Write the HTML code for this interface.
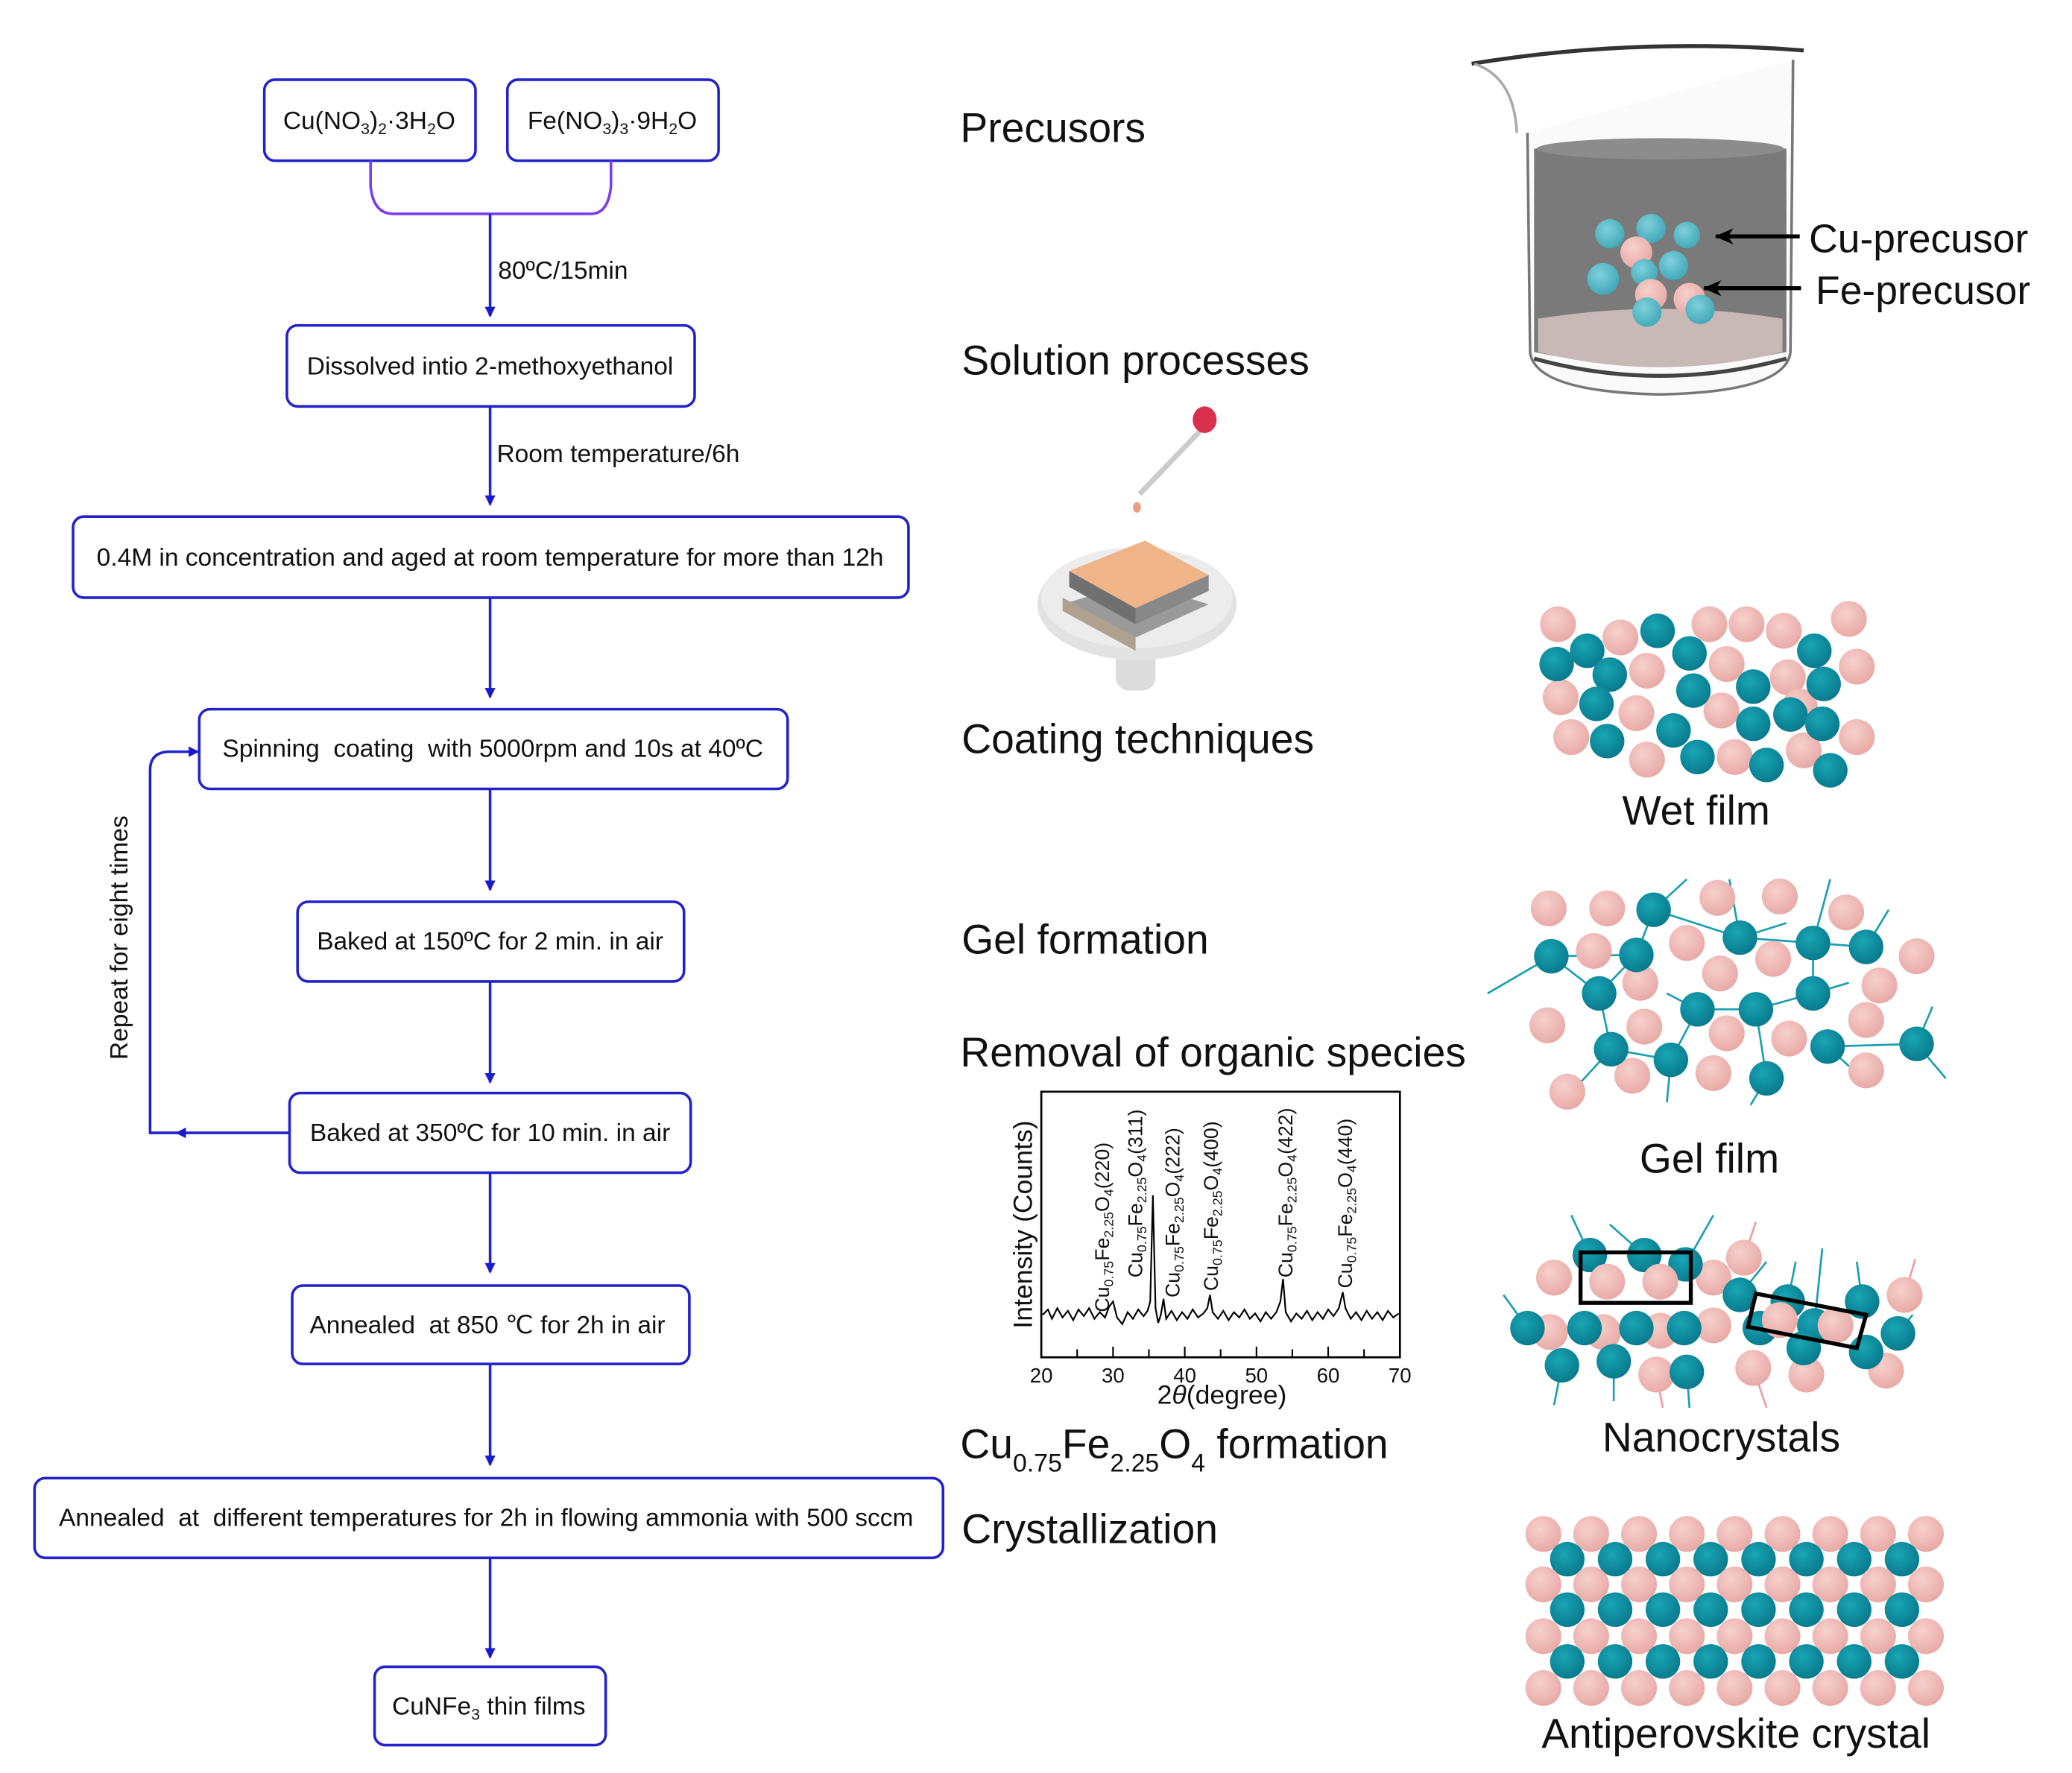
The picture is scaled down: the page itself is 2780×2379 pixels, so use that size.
<!DOCTYPE html>
<html><head><meta charset="utf-8"><style>
html,body{margin:0;padding:0;background:#fff;}
svg{display:block;}
text{font-family:"Liberation Sans",Arial,sans-serif;fill:#111;white-space:pre;}
</style></head><body>
<svg width="2780" height="2379" viewBox="0 0 1560 1335" preserveAspectRatio="none" xmlns="http://www.w3.org/2000/svg">
<defs>
<radialGradient id="pk" cx="0.4" cy="0.35" r="0.7"><stop offset="0" stop-color="#f7d0cc"/><stop offset="1" stop-color="#e7a8a4"/></radialGradient>
<radialGradient id="tl" cx="0.4" cy="0.35" r="0.7"><stop offset="0" stop-color="#1aa5b5"/><stop offset="1" stop-color="#06788a"/></radialGradient>
<radialGradient id="tl2" cx="0.4" cy="0.35" r="0.7"><stop offset="0" stop-color="#7fd0dc"/><stop offset="1" stop-color="#3fa6b6"/></radialGradient>
<marker id="ah" markerWidth="8" markerHeight="8" refX="7" refY="4" orient="auto" markerUnits="userSpaceOnUse"><path d="M0,0 L8,4 L0,8 Z" fill="#1a1acc"/></marker>
<marker id="bh" markerWidth="14" markerHeight="12" refX="13" refY="6" orient="auto" markerUnits="userSpaceOnUse"><path d="M0,0 L14,6 L0,12 L4,6 Z" fill="#000"/></marker>
<g id="prow"><circle cx="1162" cy="0" r="13.5" fill="url(#pk)"/><circle cx="1198" cy="0" r="13.5" fill="url(#pk)"/><circle cx="1234" cy="0" r="13.5" fill="url(#pk)"/><circle cx="1270" cy="0" r="13.5" fill="url(#pk)"/><circle cx="1306" cy="0" r="13.5" fill="url(#pk)"/><circle cx="1342" cy="0" r="13.5" fill="url(#pk)"/><circle cx="1378" cy="0" r="13.5" fill="url(#pk)"/><circle cx="1414" cy="0" r="13.5" fill="url(#pk)"/><circle cx="1450" cy="0" r="13.5" fill="url(#pk)"/></g>
<g id="trow"><circle cx="1180" cy="0" r="13" fill="url(#tl)"/><circle cx="1216" cy="0" r="13" fill="url(#tl)"/><circle cx="1252" cy="0" r="13" fill="url(#tl)"/><circle cx="1288" cy="0" r="13" fill="url(#tl)"/><circle cx="1324" cy="0" r="13" fill="url(#tl)"/><circle cx="1360" cy="0" r="13" fill="url(#tl)"/><circle cx="1396" cy="0" r="13" fill="url(#tl)"/><circle cx="1432" cy="0" r="13" fill="url(#tl)"/></g>
</defs>

<!-- Flowchart -->
<g fill="none" stroke="#2222cc" stroke-width="2">
<rect x="199" y="60" width="159" height="61" rx="8"/>
<rect x="382" y="60" width="159" height="61" rx="8"/>
<rect x="216" y="245" width="307" height="61" rx="8"/>
<rect x="55" y="389" width="629" height="61" rx="8"/>
<rect x="150" y="534" width="443" height="60" rx="8"/>
<rect x="224" y="679" width="291" height="60" rx="8"/>
<rect x="218" y="823" width="302" height="60" rx="8"/>
<rect x="220" y="968" width="299" height="59" rx="8"/>
<rect x="26" y="1113" width="684" height="60" rx="8"/>
<rect x="282" y="1255" width="174" height="59" rx="8"/>
</g>
<path d="M279,121 L279,140 Q281,161 296,161 L445,161 Q458,161 460,140 L460,121" fill="none" stroke="#7b3cf0" stroke-width="2"/>
<g stroke="#2222cc" stroke-width="2" fill="none" marker-end="url(#ah)">
<line x1="369" y1="161" x2="369" y2="238"/>
<line x1="369" y1="306" x2="369" y2="380"/>
<line x1="369" y1="450" x2="369" y2="525"/>
<line x1="369" y1="594" x2="369" y2="670"/>
<line x1="369" y1="739" x2="369" y2="815"/>
<line x1="369" y1="883" x2="369" y2="958"/>
<line x1="369" y1="1027" x2="369" y2="1103"/>
<line x1="369" y1="1173" x2="369" y2="1248"/>
<path d="M218,853 L133,853"/>
<path d="M133,853 L113,853 L113,580 Q113,566 128,566 L149,566"/>
</g>
<g font-size="18.8" text-anchor="middle">
<text x="278" y="97">Cu(NO<tspan font-size="12" dy="4">3</tspan><tspan dy="-4">)</tspan><tspan font-size="12" dy="4">2</tspan><tspan dy="-4">·3H</tspan><tspan font-size="12" dy="4">2</tspan><tspan dy="-4">O</tspan></text>
<text x="461" y="97">Fe(NO<tspan font-size="12" dy="4">3</tspan><tspan dy="-4">)</tspan><tspan font-size="12" dy="4">3</tspan><tspan dy="-4">·9H</tspan><tspan font-size="12" dy="4">2</tspan><tspan dy="-4">O</tspan></text>
<text x="369" y="282">Dissolved intio 2-methoxyethanol</text>
<text x="369" y="426">0.4M in concentration and aged at room temperature for more than 12h</text>
<text x="371" y="570">Spinning  coating  with 5000rpm and 10s at 40ºC</text>
<text x="369" y="715">Baked at 150ºC for 2 min. in air</text>
<text x="369" y="859">Baked at 350ºC for 10 min. in air</text>
<text x="367" y="1004">Annealed  at 850 ℃ for 2h in air</text>
<text x="366" y="1149">Annealed  at  different temperatures for 2h in flowing ammonia with 500 sccm</text>
<text x="368" y="1291">CuNFe<tspan font-size="12" dy="4">3</tspan><tspan dy="-4"> thin films</tspan></text>
</g>
<text x="375" y="210" font-size="18.8">80ºC/15min</text>
<text x="374" y="348" font-size="18.8">Room temperature/6h</text>
<text transform="translate(96,706) rotate(-90)" font-size="18.8" text-anchor="middle">Repeat for eight times</text>

<!-- Stage labels -->
<g font-size="31">
<text x="723" y="107">Precusors</text>
<text x="724" y="282">Solution processes</text>
<text x="724" y="567">Coating techniques</text>
<text x="724" y="718">Gel formation</text>
<text x="723" y="803">Removal of organic species</text>
<text x="723" y="1098">Cu<tspan font-size="19" dy="10">0.75</tspan><tspan dy="-10">Fe</tspan><tspan font-size="19" dy="10">2.25</tspan><tspan dy="-10">O</tspan><tspan font-size="19" dy="10">4</tspan><tspan dy="-10"> formation</tspan></text>
<text x="724" y="1162">Crystallization</text>
</g>

<!-- Beaker -->
<path d="M1150,100 L1152,265 Q1155,295 1250,297 Q1345,295 1348,265 L1350,45" fill="#fafafa" stroke="#777" stroke-width="2"/>
<path d="M1108,48 Q1230,28 1358,38" fill="none" stroke="#333" stroke-width="3"/>
<path d="M1110,48 Q1140,58 1142,100" fill="none" stroke="#aaa" stroke-width="2"/>
<path d="M1155,112 Q1250,100 1345,112 L1345,265 Q1250,285 1155,265 Z" fill="#7a7a7a"/>
<ellipse cx="1250" cy="112" rx="93" ry="8" fill="#8c8c8c"/>
<path d="M1158,240 Q1250,225 1342,240 L1342,265 Q1250,288 1158,265 Z" fill="#c8b8b6"/>
<path d="M1155,270 Q1250,296 1345,270" fill="none" stroke="#444" stroke-width="3"/>
<g>
<circle cx="1212" cy="176" r="11" fill="url(#tl2)"/><circle cx="1243" cy="172" r="11" fill="url(#tl2)"/><circle cx="1270" cy="177" r="10" fill="url(#tl2)"/>
<circle cx="1232" cy="190" r="12" fill="url(#pk)"/><circle cx="1260" cy="200" r="11" fill="url(#tl2)"/><circle cx="1238" cy="205" r="10" fill="url(#tl2)"/>
<circle cx="1207" cy="210" r="12" fill="url(#tl2)"/><circle cx="1243" cy="222" r="12" fill="url(#pk)"/><circle cx="1272" cy="225" r="12" fill="url(#pk)"/>
<circle cx="1240" cy="235" r="11" fill="url(#tl2)"/><circle cx="1280" cy="233" r="11" fill="url(#tl2)"/>
</g>
<line x1="1355" y1="178" x2="1292" y2="178" stroke="#000" stroke-width="3" marker-end="url(#bh)"/>
<line x1="1356" y1="217" x2="1283" y2="217" stroke="#000" stroke-width="3" marker-end="url(#bh)"/>
<text x="1362" y="190" font-size="30">Cu-precusor</text>
<text x="1367" y="229" font-size="30">Fe-precusor</text>

<!-- Dropper and spin coater -->
<line x1="906" y1="322" x2="858" y2="372" stroke="#ccc" stroke-width="4"/>
<ellipse cx="907" cy="316" rx="9" ry="10" fill="#d9304e"/>
<ellipse cx="856" cy="382" rx="3" ry="4" fill="#e8a07a"/>
<rect x="840" y="470" width="30" height="50" rx="10" fill="#dcdcdc"/>
<ellipse cx="856" cy="455" rx="75" ry="42" fill="#e2e2e2"/>
<ellipse cx="856" cy="450" rx="72" ry="38" fill="#ececec"/>
<polygon points="800,455 855,438 910,455 855,480" fill="#9a9a9a"/>
<polygon points="800,450 855,480 855,490 800,460" fill="#b0a090"/>
<polygon points="805,430 862,407 910,433 855,458" fill="#efb488"/>
<polygon points="805,430 855,458 855,470 805,442" fill="#707070"/>
<polygon points="855,458 910,433 910,445 855,470" fill="#888"/>

<!-- Wet film -->
<g>
<g fill="url(#pk)">
<circle cx="1173" cy="470" r="13.5"/><circle cx="1220" cy="480" r="13.5"/><circle cx="1287" cy="470" r="13.5"/><circle cx="1315" cy="470" r="13.5"/><circle cx="1343" cy="475" r="13.5"/><circle cx="1392" cy="466" r="13.5"/><circle cx="1175" cy="525" r="13.5"/><circle cx="1240" cy="505" r="13.5"/><circle cx="1300" cy="500" r="13.5"/><circle cx="1346" cy="510" r="13.5"/><circle cx="1398" cy="502" r="13.5"/><circle cx="1183" cy="555" r="13.5"/><circle cx="1232" cy="537" r="13.5"/><circle cx="1296" cy="535" r="13.5"/><circle cx="1355" cy="532" r="13.5"/><circle cx="1240" cy="572" r="13.5"/><circle cx="1306" cy="570" r="13.5"/><circle cx="1358" cy="565" r="13.5"/><circle cx="1398" cy="555" r="13.5"/>
</g>
<g fill="url(#tl)">
<circle cx="1172" cy="500" r="13"/><circle cx="1195" cy="490" r="13"/><circle cx="1248" cy="475" r="13"/><circle cx="1212" cy="508" r="13"/><circle cx="1272" cy="492" r="13"/><circle cx="1366" cy="490" r="13"/><circle cx="1202" cy="530" r="13"/><circle cx="1275" cy="520" r="13"/><circle cx="1320" cy="517" r="13"/><circle cx="1373" cy="515" r="13"/><circle cx="1210" cy="558" r="13"/><circle cx="1260" cy="550" r="13"/><circle cx="1320" cy="545" r="13"/><circle cx="1348" cy="538" r="13"/><circle cx="1372" cy="545" r="13"/><circle cx="1278" cy="570" r="13"/><circle cx="1330" cy="576" r="13"/><circle cx="1378" cy="580" r="13"/>
</g>
</g>
<text x="1277" y="621" font-size="31" text-anchor="middle">Wet film</text>

<!-- Gel film -->
<g stroke="#1a9fb0" stroke-width="1.5" fill="none">
<path d="M1245,685 L1310,706 L1365,710 L1405,713 M1168,720 L1232,719 L1204,748 L1168,720 M1232,719 L1245,685 M1278,760 L1322,760 L1365,748 L1365,710 M1213,790 L1258,798 L1278,760 M1376,788 L1443,786 M1330,812 L1322,760 M1204,748 L1213,790 M1168,720 L1120,748 M1245,685 L1270,662 M1310,706 L1302,662 M1365,710 L1378,662 M1405,713 L1422,685 M1443,786 L1465,812 M1443,786 L1455,758 M1330,812 L1318,832 M1213,790 L1190,815 M1258,798 L1255,830 M1376,788 L1400,810 M1278,760 L1255,748 M1310,706 L1345,695 M1365,748 L1392,740"/>
</g>
<g fill="url(#pk)">
<circle cx="1166" cy="684" r="13.5"/><circle cx="1210" cy="684" r="13.5"/><circle cx="1293" cy="676" r="13.5"/><circle cx="1340" cy="675" r="13.5"/><circle cx="1390" cy="687" r="13.5"/><circle cx="1200" cy="716" r="13.5"/><circle cx="1270" cy="710" r="13.5"/><circle cx="1335" cy="722" r="13.5"/><circle cx="1443" cy="720" r="13.5"/><circle cx="1235" cy="740" r="13.5"/><circle cx="1295" cy="733" r="13.5"/><circle cx="1415" cy="742" r="13.5"/><circle cx="1165" cy="772" r="13.5"/><circle cx="1238" cy="773" r="13.5"/><circle cx="1300" cy="778" r="13.5"/><circle cx="1347" cy="782" r="13.5"/><circle cx="1405" cy="768" r="13.5"/><circle cx="1180" cy="822" r="13.5"/><circle cx="1229" cy="810" r="13.5"/><circle cx="1290" cy="808" r="13.5"/><circle cx="1405" cy="806" r="13.5"/>
</g>
<g fill="url(#tl)">
<circle cx="1245" cy="685" r="13"/><circle cx="1310" cy="706" r="13"/><circle cx="1365" cy="710" r="13"/><circle cx="1405" cy="713" r="13"/><circle cx="1168" cy="720" r="13"/><circle cx="1232" cy="719" r="13"/><circle cx="1204" cy="748" r="13"/><circle cx="1278" cy="760" r="13"/><circle cx="1322" cy="760" r="13"/><circle cx="1365" cy="748" r="13"/><circle cx="1213" cy="790" r="13"/><circle cx="1258" cy="798" r="13"/><circle cx="1376" cy="788" r="13"/><circle cx="1443" cy="786" r="13"/><circle cx="1330" cy="812" r="13"/>
</g>
<text x="1287" y="883" font-size="31" text-anchor="middle">Gel film</text>

<!-- Nanocrystals -->
<g stroke="#1a9fb0" stroke-width="1.5">
<path d="M1197,945 L1183,915 M1238,945 L1212,922 M1269,952 L1290,915 M1150,1000 L1132,975 M1176,1028 L1170,1058 M1215,1025 L1215,1055 M1270,1033 L1272,1060 M1346,980 L1352,950 M1402,980 L1398,950 M1310,975 L1330,950 M1366,998 L1372,940 M1429,1004 L1440,990"/>
</g>
<g stroke="#e8a0a0" stroke-width="1.5"><path d="M1313,947 L1322,920 M1434,975 L1442,948 M1247,1035 L1252,1060 M1320,1030 L1330,1060"/></g>
<g fill="url(#pk)">
<circle cx="1170" cy="962" r="13.5"/><circle cx="1313" cy="947" r="13.5"/><circle cx="1290" cy="962" r="13.5"/><circle cx="1167" cy="1003" r="13.5"/><circle cx="1250" cy="1002" r="13.5"/><circle cx="1290" cy="998" r="13.5"/><circle cx="1434" cy="975" r="13.5"/><circle cx="1247" cy="1035" r="13.5"/><circle cx="1320" cy="1030" r="13.5"/><circle cx="1360" cy="1035" r="13.5"/><circle cx="1420" cy="1032" r="13.5"/><circle cx="1207" cy="1003" r="13.5"/>
</g>
<g fill="url(#tl)">
<circle cx="1197" cy="945" r="13"/><circle cx="1238" cy="945" r="13"/><circle cx="1269" cy="952" r="13"/><circle cx="1150" cy="1000" r="13"/><circle cx="1193" cy="1000" r="13"/><circle cx="1232" cy="1000" r="13"/><circle cx="1268" cy="1000" r="13"/><circle cx="1176" cy="1028" r="13"/><circle cx="1215" cy="1025" r="13"/><circle cx="1270" cy="1033" r="13"/><circle cx="1310" cy="975" r="13"/><circle cx="1346" cy="980" r="13"/><circle cx="1366" cy="998" r="13"/><circle cx="1402" cy="980" r="13"/><circle cx="1405" cy="1018" r="13"/><circle cx="1429" cy="1004" r="13"/><circle cx="1325" cy="1000" r="13"/><circle cx="1358" cy="1015" r="13"/>
</g>
<g fill="url(#pk)"><circle cx="1210" cy="965" r="13.5"/><circle cx="1250" cy="965" r="13.5"/><circle cx="1340" cy="994" r="13.5"/><circle cx="1382" cy="998" r="13.5"/></g>
<rect x="1190" y="943" width="83" height="38" fill="none" stroke="#000" stroke-width="3"/>
<polygon points="1322,974 1405,990 1398,1015 1316,999" fill="none" stroke="#000" stroke-width="3"/>
<text x="1296" y="1093" font-size="31" text-anchor="middle">Nanocrystals</text>

<!-- Antiperovskite -->
<use href="#prow" y="1155"/><use href="#trow" y="1174"/>
<use href="#prow" y="1193"/><use href="#trow" y="1212"/>
<use href="#prow" y="1232"/><use href="#trow" y="1251"/>
<use href="#prow" y="1271"/>
<text x="1307" y="1316" font-size="31" text-anchor="middle">Antiperovskite crystal</text>

<!-- XRD -->
<rect x="784" y="822" width="270" height="200" fill="none" stroke="#000" stroke-width="1.5"/>
<g stroke="#000" stroke-width="1.2">
<line x1="811" y1="1022" x2="811" y2="1016"/><line x1="838" y1="1022" x2="838" y2="1014"/><line x1="865" y1="1022" x2="865" y2="1016"/><line x1="892" y1="1022" x2="892" y2="1014"/><line x1="919" y1="1022" x2="919" y2="1016"/><line x1="946" y1="1022" x2="946" y2="1014"/><line x1="973" y1="1022" x2="973" y2="1016"/><line x1="1000" y1="1022" x2="1000" y2="1014"/><line x1="1027" y1="1022" x2="1027" y2="1016"/>
</g>
<polyline fill="none" stroke="#000" stroke-width="1.2" points="785,990 789,986 792,993 796,985 800,992 804,987 808,994 812,986 816,991 820,985 824,993 828,988 832,992 835,984 838,980 841,992 845,997 849,988 853,993 857,986 861,991 864,987 866,980 868,900 870,985 872,996 874,990 876,978 878,993 882,987 886,994 890,988 894,993 898,986 902,992 906,989 909,985 911,975 913,988 917,993 921,987 925,994 929,988 933,992 937,986 941,993 945,989 949,995 953,988 957,993 961,988 964,980 966,963 968,988 972,995 976,989 980,993 984,987 988,994 992,988 996,993 1000,986 1004,991 1008,985 1011,973 1013,985 1017,993 1021,988 1025,994 1029,987 1033,993 1037,988 1041,994 1045,987 1049,992 1053,989"/>
<g font-size="15.5" text-anchor="middle">
<text x="784" y="1041">20</text><text x="838" y="1041">30</text><text x="892" y="1041">40</text><text x="946" y="1041">50</text><text x="1000" y="1041">60</text><text x="1054" y="1041">70</text>
</g>
<text x="920" y="1057" font-size="20" text-anchor="middle">2<tspan font-style="italic">θ</tspan>(degree)</text>
<text transform="translate(777,922) rotate(-90)" font-size="20" text-anchor="middle">Intensity (Counts)</text>
<g font-size="15">
<text transform="translate(835,988) rotate(-90)">Cu<tspan font-size="10" dy="3">0.75</tspan><tspan dy="-3">Fe</tspan><tspan font-size="10" dy="3">2.25</tspan><tspan dy="-3">O</tspan><tspan font-size="10" dy="3">4</tspan><tspan dy="-3">(220)</tspan></text>
<text transform="translate(860,962) rotate(-90)">Cu<tspan font-size="10" dy="3">0.75</tspan><tspan dy="-3">Fe</tspan><tspan font-size="10" dy="3">2.25</tspan><tspan dy="-3">O</tspan><tspan font-size="10" dy="3">4</tspan><tspan dy="-3">(311)</tspan></text>
<text transform="translate(888,977) rotate(-90)">Cu<tspan font-size="10" dy="3">0.75</tspan><tspan dy="-3">Fe</tspan><tspan font-size="10" dy="3">2.25</tspan><tspan dy="-3">O</tspan><tspan font-size="10" dy="3">4</tspan><tspan dy="-3">(222)</tspan></text>
<text transform="translate(917,972) rotate(-90)">Cu<tspan font-size="10" dy="3">0.75</tspan><tspan dy="-3">Fe</tspan><tspan font-size="10" dy="3">2.25</tspan><tspan dy="-3">O</tspan><tspan font-size="10" dy="3">4</tspan><tspan dy="-3">(400)</tspan></text>
<text transform="translate(973,962) rotate(-90)">Cu<tspan font-size="10" dy="3">0.75</tspan><tspan dy="-3">Fe</tspan><tspan font-size="10" dy="3">2.25</tspan><tspan dy="-3">O</tspan><tspan font-size="10" dy="3">4</tspan><tspan dy="-3">(422)</tspan></text>
<text transform="translate(1018,970) rotate(-90)">Cu<tspan font-size="10" dy="3">0.75</tspan><tspan dy="-3">Fe</tspan><tspan font-size="10" dy="3">2.25</tspan><tspan dy="-3">O</tspan><tspan font-size="10" dy="3">4</tspan><tspan dy="-3">(440)</tspan></text>
</g>
</svg>
</body></html>
